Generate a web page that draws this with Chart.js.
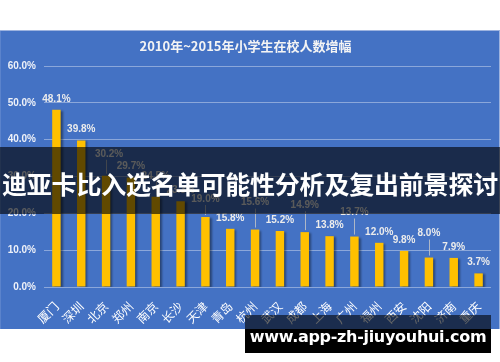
<!DOCTYPE html>
<html>
<head>
<meta charset="utf-8">
<script src="https://cdn.jsdelivr.net/npm/chart.js@4/dist/chart.umd.min.js"></script>
<style>
  html, body { margin: 0; padding: 0; background: #fff; }
  body { width: 500px; height: 362px; position: relative; overflow: hidden; }
  #panel { position: absolute; left: 0; top: 30px; width: 500px; height: 299px; background: #4472c4; box-shadow: inset 0 1px 0 #9db3df, inset -1px 0 0 #9db3df, inset 1px 0 0 #5b83cc; }
  #banner { position: absolute; left: 0; top: 147px; width: 500px; height: 67px; background: rgba(0,0,0,0.62);
    color: #fff; font: bold 25px "Noto Sans CJK SC", sans-serif; line-height: 72px; text-align: center; white-space: nowrap; letter-spacing: -0.2px; }
  #mark { position: absolute; left: 245px; top: 315px; width: 246px; height: 38px;
    background: linear-gradient(to bottom, rgba(0,0,0,0.6) 0, rgba(0,0,0,0.6) 14px, #000 14px);
    color: #fff; font: bold 16px "DejaVu Sans", sans-serif; letter-spacing: -0.3px; line-height: 44px; text-align: center; white-space: nowrap; }
</style>
</head>
<body>
<div id="panel"><canvas id="growthChart" width="500" height="299"></canvas></div>
<div id="banner">迪亚卡比入选名单可能性分析及复出前景探讨</div>
<div id="mark">www.app-zh-jiuyouhui.com</div>
<script>
// 数据
const titleText = '2010年~2015年小学生在校人数增幅'
const cities = ['厦门', '深圳', '北京', '郑州', '南京', '长沙', '天津', '青岛', '杭州',
  '武汉', '成都', '上海', '广州', '福州', '西安', '沈阳', '济南', '重庆']
const growth = [48.1, 39.8, 30.2, 29.7, 24.5, 23.3, 19.0, 15.8, 15.6,
  15.2, 14.9, 13.8, 13.7, 12.0, 9.8, 8.0, 7.9, 3.7]
const labelText = ['48.1%', '39.8%', '30.2%', '29.7%', '24.5%', '23.3%', '19.0%', '15.8%', '15.6%',
  '15.2%', '14.9%', '13.8%', '13.7%', '12.0%', '9.8%', '8.0%', '7.9%', '3.7%']

// 有引导线的标签往上抬 (px)
const lifted = { 2: 11, 4: 10, 6: 7, 8: 16, 10: 16, 12: 13, 15: 13 }

const barShadow = {
  id: 'barShadow',
  beforeDatasetsDraw(chart) {
    const ctx = chart.ctx
    ctx.save()
    ctx.shadowColor = 'rgba(0,0,0,0.4)'
    ctx.shadowOffsetX = 2
    ctx.shadowOffsetY = 1
    ctx.shadowBlur = 2
  },
  afterDatasetsDraw(chart) {
    chart.ctx.restore()
  }
}

const valueLabels = {
  id: 'valueLabels',
  afterDatasetsDraw(chart) {
    const ctx = chart.ctx
    const meta = chart.getDatasetMeta(0)
    ctx.save()
    ctx.font = 'bold 10px "Liberation Sans", Arial, sans-serif'
    ctx.textAlign = 'center'
    ctx.textBaseline = 'middle'
    meta.data.forEach((bar, i) => {
      const lift = lifted[i] || 0
      const y = bar.y - 11 - lift
      if (lift) {
        ctx.strokeStyle = 'rgba(200,200,200,0.8)'
        ctx.lineWidth = 1
        ctx.beginPath()
        ctx.moveTo(Math.round(bar.x) + 0.5, y + 6)
        ctx.lineTo(Math.round(bar.x) + 0.5, bar.y - 2)
        ctx.stroke()
      }
      ctx.fillStyle = '#ececec'
      ctx.fillText(labelText[i], bar.x + (i === 2 ? 3 : 0), y)
    })
    ctx.restore()
  }
}

new Chart('growthChart', {
  type: 'bar',
  data: {
    labels: cities,
    datasets: [{
      data: growth,
      backgroundColor: '#ffc000',
      borderWidth: 0,
      categoryPercentage: 1,
      barPercentage: 0.34
    }]
  },
  options: {
    responsive: false,
    animation: false,
    layout: { padding: { left: 0, right: 9, top: 0, bottom: 0 } },
    plugins: {
      legend: { display: false },
      tooltip: { enabled: false },
      title: {
        display: true,
        text: titleText,
        color: '#f4f4f4',
        font: { family: '"Noto Sans CJK SC", sans-serif', size: 13, weight: 'bold', lineHeight: 1.2 },
        padding: { top: 8, bottom: 12.4 }
      }
    },
    scales: {
      y: {
        min: 0,
        max: 60,
        ticks: {
          stepSize: 10,
          color: '#eef1f8',
          padding: 8,
          font: { family: '"Liberation Sans", Arial, sans-serif', size: 10, weight: 'bold' },
          callback: v => v.toFixed(1) + '%'
        },
        grid: { color: 'rgba(255,255,255,0.38)', drawTicks: false },
        border: { display: false },
        afterFit(scale) { scale.width = 44 }
      },
      x: {
        ticks: {
          color: '#ffffff',
          maxRotation: 45,
          minRotation: 45,
          padding: 4,
          font: { family: '"Noto Sans CJK SC", sans-serif', size: 12 }
        },
        grid: { display: false },
        border: { display: false },
        afterFit(scale) { scale.height = 42 }
      }
    }
  },
  plugins: [barShadow, valueLabels]
})
</script>
</body>
</html>
